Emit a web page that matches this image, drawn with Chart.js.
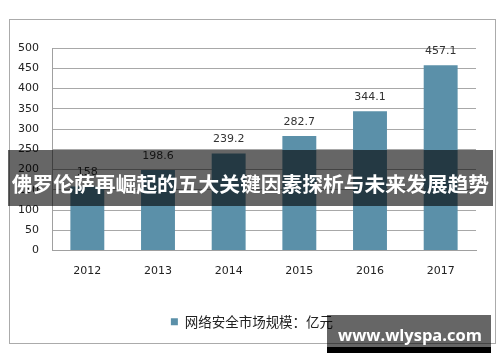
<!DOCTYPE html>
<html>
<head>
<meta charset="utf-8">
<script src="https://cdn.jsdelivr.net/npm/chart.js@4"></script>
<style>
  html, body { margin: 0; padding: 0; background: #fff; }
  #wrap { position: relative; width: 500px; height: 362px; overflow: hidden; }
  #frame { position: absolute; left: 9px; top: 19px; width: 485px; height: 323px; border: 1px solid #ababab; }
  canvas { position: absolute; left: 0; top: 0; }
  #banner { position: absolute; left: 8px; top: 150px; width: 485px; height: 56px; background: rgba(0,0,0,0.6);
            color: #fff; font-weight: bold; font-family: "Noto Sans CJK SC", sans-serif; font-size: 21px;
            text-align: center; line-height: 56px; white-space: nowrap; }
  #banner span { position: relative; top: 5px; display: inline-block; line-height: 1; }
  #wm { position: absolute; left: 327px; top: 315px; width: 164px; height: 32px; background: rgba(0,0,0,0.6);
        color: #fff; font: bold 16.5px "Open Sans", sans-serif; text-align: center; line-height: 32px; white-space: nowrap; }
  #wm span { position: relative; top: 4px; left: 1px; }
  #wmb { position: absolute; left: 327px; top: 347px; width: 164px; height: 6px; background: #000; }
</style>
</head>
<body>
<div id="wrap">
  <div id="frame"></div>
  <canvas id="c" width="500" height="362"></canvas>
  <div id="banner"><span id="bt">佛罗伦萨再崛起的五大关键因素探析与未来发展趋势</span></div>
  <div id="wm"><span>www.wlyspa.com</span></div>
  <div id="wmb"></div>
</div>
<script>
// fit banner title to the width seen in the reference
(function () {
  const b = document.getElementById('banner');
  const t = document.getElementById('bt');
  let fs = 24;
  b.style.fontSize = fs + 'px';
  while (t.getBoundingClientRect().width > 480 && fs > 10) {
    fs -= 0.25;
    b.style.fontSize = fs + 'px';
  }
})();

const categories = ['2012', '2013', '2014', '2015', '2016', '2017'];
const marketSize = [158, 198.6, 239.2, 282.7, 344.1, 457.1];
const valueLabels = ['158', '198.6', '239.2', '282.7', '344.1', '457.1'];
const seriesName = '网络安全市场规模：亿元';

const barLabels = {
  id: 'barLabels',
  afterDatasetsDraw(chart) {
    const ctx = chart.ctx;
    const meta = chart.getDatasetMeta(0);
    ctx.save();
    ctx.font = '11px "DejaVu Sans", sans-serif';
    ctx.fillStyle = '#333';
    ctx.textAlign = 'center';
    ctx.textBaseline = 'middle';
    meta.data.forEach((bar, i) => {
      ctx.fillText(valueLabels[i], bar.x, bar.y - 14);
    });
    ctx.restore();
  }
};

const legendShift = {
  id: 'legendShift',
  afterLayout(chart) {
    const lg = chart.legend;
    if (lg) { lg.left += 14; lg.right += 14; }
  }
};

new Chart(document.getElementById('c'), {
  type: 'bar',
  data: {
    labels: categories,
    datasets: [{
      label: seriesName,
      data: marketSize,
      backgroundColor: '#5b90a9',
      borderWidth: 0,
      categoryPercentage: 1,
      barPercentage: 0.48
    }]
  },
  options: {
    responsive: false,
    animation: false,
    layout: { padding: { left: 0, right: 24, top: 48, bottom: 23.5 } },
    plugins: {
      legend: {
        position: 'bottom',
        labels: {
          boxWidth: 7, boxHeight: 7, padding: 10,
          color: '#222',
          font: { size: 13.5, family: '"Noto Sans CJK SC", sans-serif' }
        }
      },
      tooltip: { enabled: false }
    },
    scales: {
      x: {
        grid: { display: false, drawTicks: false },
        border: { display: true, color: '#a0a0a0', width: 1 },
        ticks: { color: '#222', padding: 14, font: { size: 11, family: '"DejaVu Sans", sans-serif' } },
        afterFit(s) { s.height = 54.5; }
      },
      y: {
        min: 0, max: 500,
        grid: { color: '#a8a8a8', drawTicks: false },
        border: { display: true, color: '#a0a0a0', width: 1 },
        ticks: { stepSize: 50, color: '#222', padding: 13, font: { size: 11, family: '"DejaVu Sans", sans-serif' } },
        afterFit(s) { s.width = 52; }
      }
    }
  },
  plugins: [barLabels, legendShift]
});
</script>
</body>
</html>
